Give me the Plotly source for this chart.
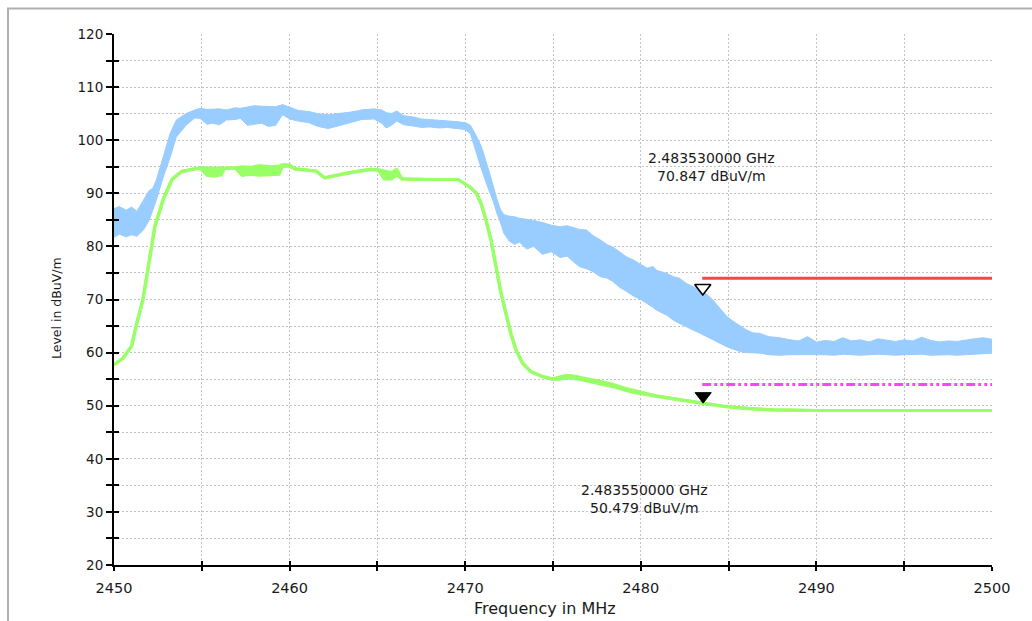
import plotly.graph_objects as go

# ---------------- data ----------------
blue_freq = [2450.0, 2450.3, 2450.7, 2451.0, 2451.3, 2451.65, 2452.0, 2452.2, 2452.4, 2452.8,
             2453.2, 2453.55, 2454.1, 2454.6, 2454.9, 2455.3, 2455.6, 2456.0, 2456.4, 2456.9,
             2457.2, 2457.6, 2458.0, 2458.4, 2458.8, 2459.2, 2459.6, 2460.0, 2460.5, 2461.1,
             2461.6, 2462.2, 2462.9, 2463.5, 2464.1, 2464.8, 2465.25, 2465.5, 2465.8, 2466.1,
             2466.5, 2467.0, 2467.5, 2468.0, 2468.5, 2469.0, 2469.5, 2470.0, 2470.3, 2470.6,
             2470.9, 2471.3, 2471.6, 2471.8, 2472.0, 2472.2, 2472.5, 2472.8, 2473.1, 2473.5,
             2473.9, 2474.4, 2474.9, 2475.4, 2475.8, 2476.1, 2476.5, 2476.9, 2477.3, 2477.7,
             2478.1, 2478.4, 2478.8, 2479.2, 2479.6, 2480.0, 2480.35, 2480.7, 2480.9, 2481.5,
             2481.85, 2482.2, 2482.6, 2483.0, 2483.4, 2483.75, 2484.1, 2484.5, 2484.9, 2485.3,
             2485.65, 2486.0, 2486.4, 2486.8, 2487.3, 2487.9, 2488.5, 2489.0, 2489.5, 2490.0,
             2490.5, 2491.0, 2491.5, 2492.0, 2492.5, 2493.0, 2493.5, 2494.0, 2494.5, 2495.0,
             2495.5, 2496.0, 2496.5, 2497.0, 2497.5, 2498.0, 2498.5, 2499.0, 2499.5, 2500.0]
blue_hi = [87.1, 87.5, 86.8, 87.4, 86.6, 88.6, 90.5, 90.9, 92.4, 96.8,
           101.3, 103.8, 105.0, 105.7, 106.0, 105.8, 105.8, 105.9, 105.7, 106.1,
           106.0, 106.2, 106.5, 106.4, 106.3, 106.3, 106.7, 106.2, 105.6, 105.4,
           105.0, 104.8, 105.0, 105.3, 105.7, 105.9, 105.7, 105.2, 105.0, 105.5,
           104.6, 104.4, 104.0, 103.9, 103.8, 103.7, 103.5, 103.3, 102.8, 101.0,
           99.0, 94.8, 91.0, 89.0, 87.0, 86.0, 85.7, 85.6, 85.3, 85.1,
           84.9, 84.5, 84.0, 83.7, 83.9, 83.6, 83.2, 83.1, 82.0, 81.2,
           80.3, 79.9, 79.0, 78.0, 77.4, 76.6, 75.9, 76.2, 75.5, 74.9,
           74.3, 74.0, 73.0, 72.4, 71.6, 71.0, 69.9, 68.4, 66.8, 65.8,
           65.0, 64.3, 63.7, 63.6, 63.0, 62.8, 62.4, 62.2, 63.0, 62.0,
           62.3, 62.1, 62.8, 62.2, 62.4, 62.0, 62.6, 62.3, 62.1, 62.4,
           62.2, 62.9, 62.3, 62.0, 62.2, 62.1, 62.4, 62.6, 62.8, 62.5]
blue_lo = [81.7, 82.3, 81.8, 82.2, 81.9, 83.0, 84.9, 86.7, 88.6, 93.0,
           96.8, 100.6, 102.8, 104.2, 104.1, 103.0, 103.2, 102.9, 103.8, 103.9,
           104.1, 102.8, 103.0, 103.2, 102.6, 102.8, 104.8, 104.0, 103.6, 103.3,
           102.6, 102.2, 102.8, 103.4, 103.9, 104.0, 103.2, 102.3, 102.8, 103.6,
           102.9, 102.7, 102.4, 102.5, 102.3, 102.4, 102.2, 102.0, 101.2, 97.9,
           94.8, 91.0, 88.5, 86.3, 84.6, 82.5, 81.0, 80.4, 80.8, 79.5,
           80.0, 78.5, 79.0, 77.9, 78.2, 77.3, 76.2, 75.8, 75.2, 74.3,
           74.0, 73.4, 72.3, 71.5, 70.6, 70.0, 69.3, 68.5, 68.0, 67.0,
           66.1, 65.5, 64.8, 64.2, 63.6, 63.0, 62.4, 61.7, 61.1, 60.6,
           60.2, 60.0, 59.9, 59.9, 59.6, 59.5, 59.6, 59.6, 59.7, 59.6,
           59.6, 59.5, 59.7, 59.6, 59.5, 59.6, 59.7, 59.6, 59.5, 59.6,
           59.6, 59.7, 59.5, 59.6, 59.6, 59.5, 59.6, 59.7, 59.8, 59.9]

green_freq = [2450.0, 2450.5, 2451.0, 2451.25, 2451.65, 2451.95, 2452.33, 2452.8, 2453.3, 2453.85,
              2454.9, 2455.3, 2455.7, 2456.1, 2456.3, 2456.9, 2457.3, 2457.8, 2458.3, 2458.9,
              2459.4, 2459.6, 2460.0, 2460.3, 2461.0, 2461.5, 2462.0, 2462.5, 2463.0, 2463.6,
              2464.1, 2464.6, 2465.05, 2465.4, 2465.8, 2466.1, 2466.4, 2467.35, 2468.5, 2469.6,
              2470.26, 2470.64, 2470.9, 2471.18, 2471.47, 2471.75, 2472.04, 2472.32, 2472.6, 2472.89,
              2473.27, 2473.74, 2474.4, 2474.97, 2475.4, 2475.73, 2476.1, 2476.49, 2477.0, 2477.68,
              2478.43, 2479.1, 2479.77, 2480.9, 2482.23, 2483.56, 2484.9, 2486.03, 2487.55, 2490.0,
              2495.0, 2500.0]
green_hi = [57.7, 58.9, 61.2, 64.9, 70.0, 76.2, 83.8, 88.8, 92.6, 94.1,
            94.8, 94.8, 94.7, 94.8, 94.7, 94.8, 95.0, 94.9, 95.2, 95.0,
            95.1, 95.4, 95.3, 94.6, 94.4, 94.2, 92.9, 93.3, 93.6, 94.0,
            94.3, 94.5, 94.4, 94.1, 93.9, 94.5, 92.7, 92.6, 92.6, 92.6,
            91.2, 90.0, 88.1, 85.0, 81.2, 76.2, 71.2, 67.4, 63.6, 60.5,
            58.0, 56.4, 55.5, 55.0, 55.4, 55.7, 55.6, 55.4, 55.0, 54.6,
            54.0, 53.3, 52.7, 51.8, 51.1, 50.5, 49.8, 49.5, 49.2, 49.1,
            49.1, 49.1]
green_lo = [57.7, 58.9, 61.2, 64.9, 70.0, 76.2, 83.8, 88.8, 92.6, 94.1,
            94.8, 93.4, 93.3, 93.5, 94.7, 94.8, 93.4, 93.6, 93.4, 93.5,
            93.6, 95.1, 95.1, 94.6, 94.4, 94.2, 92.9, 93.3, 93.6, 94.0,
            94.3, 94.5, 94.4, 92.7, 92.7, 93.5, 92.7, 92.6, 92.6, 92.6,
            91.2, 90.0, 88.1, 85.0, 81.2, 76.2, 71.2, 67.4, 63.6, 60.5,
            58.0, 56.4, 55.5, 55.0, 55.0, 55.2, 55.2, 55.0, 54.6, 54.2,
            53.6, 52.9, 52.4, 51.8, 51.1, 50.5, 49.8, 49.5, 49.2, 49.1,
            49.1, 49.1]

limit_freq = [2483.5, 2500.0]
peak_limit = [74.0, 74.0]
avg_limit = [54.0, 54.0]

marker_freq_ghz = [2.48353, 2.48355]
marker_level = [70.847, 50.479]

x_range = [2450, 2500]
y_range = [20, 120]
x_tick_labels = ["2450", "2460", "2470", "2480", "2490", "2500"]

# ---------------- layout geometry ----------------
W, H = 1032, 621
ML, MR, MT, MB = 114, 40, 34, 56
PW, PH = W - ML - MR, H - MT - MB
px_per_db = PH / (y_range[1] - y_range[0])

BLUE = "#99ccff"
GREEN = "#99ff66"
RED = "#f24848"
MAGENTA = "#ff44ff"
FONT = "DejaVu Sans"
TXT = "#1a1a1a"

fig = go.Figure()

# peak trace (band)
fig.add_trace(go.Scatter(x=blue_freq, y=blue_lo, mode="lines",
                         line=dict(color=BLUE, width=1), hoverinfo="skip"))
fig.add_trace(go.Scatter(x=blue_freq, y=blue_hi, mode="lines", fill="tonexty",
                         fillcolor=BLUE, line=dict(color=BLUE, width=1), hoverinfo="skip"))
# average trace
fig.add_trace(go.Scatter(x=green_freq, y=green_lo, mode="lines",
                         line=dict(color=GREEN, width=3.2), hoverinfo="skip"))
fig.add_trace(go.Scatter(x=green_freq, y=green_hi, mode="lines", fill="tonexty",
                         fillcolor=GREEN, line=dict(color=GREEN, width=3.2), hoverinfo="skip"))

# limit lines (on overlay axes that carry the inner tick halves)
fig.add_trace(go.Scatter(x=limit_freq, y=peak_limit, mode="lines",
                         line=dict(color=RED, width=3), xaxis="x2", yaxis="y2"))
fig.add_trace(go.Scatter(x=limit_freq, y=avg_limit, mode="lines",
                         line=dict(color=MAGENTA, width=3, dash="9px,3px,3px,3px,3px,3px"),
                         xaxis="x2", yaxis="y2"))

# markers: tip of the triangle sits on the measured level
msize = 14
tip_offset = (msize / 2) / px_per_db
mk_x = [f * 1000 for f in marker_freq_ghz]
fig.add_trace(go.Scatter(x=[mk_x[0]], y=[marker_level[0] + tip_offset], mode="markers",
                         marker=dict(symbol="triangle-down", size=msize, color="white",
                                     line=dict(color="black", width=1.6)),
                         xaxis="x2", yaxis="y2"))
fig.add_trace(go.Scatter(x=[mk_x[1]], y=[marker_level[1] + tip_offset], mode="markers",
                         marker=dict(symbol="triangle-down", size=msize, color="black",
                                     line=dict(color="black", width=1)),
                         xaxis="x2", yaxis="y2"))

def pxx(p):
    return (p - ML) / PW

def pxy(p):
    return (H - MB - p) / PH

annots = []
for i, (cx, cy) in enumerate([(711, 167), (644, 498.5)]):
    annots.append(dict(
        x=pxx(cx), y=pxy(cy), xref="paper", yref="paper", showarrow=False,
        xanchor="center", yanchor="middle", align="center",
        text=f"{marker_freq_ghz[i]:.9f} GHz<br>{marker_level[i]:.3f} dBuV/m",
        font=dict(family=FONT, size=14, color=TXT)))
annots.append(dict(x=pxx(545), y=pxy(608), xref="paper", yref="paper", showarrow=False,
                   xanchor="center", yanchor="middle", text="Frequency in MHz",
                   font=dict(family=FONT, size=16, color=TXT)))
annots.append(dict(x=pxx(56), y=pxy(308), xref="paper", yref="paper", showarrow=False,
                   xanchor="center", yanchor="middle", text="Level in dBuV/m", textangle=-90,
                   font=dict(family=FONT, size=12.5, color=TXT)))

grid = dict(showgrid=True, gridcolor="#c2c2c2", gridwidth=1, griddash="2px,2px")

fig.update_layout(
    width=W, height=H, margin=dict(l=ML, r=MR, t=MT, b=MB),
    paper_bgcolor="white", plot_bgcolor="white", showlegend=False,
    annotations=annots,
    shapes=[dict(type="rect", xref="paper", yref="paper",
                 x0=pxx(8), x1=pxx(1050), y0=pxy(650), y1=pxy(8.5),
                 line=dict(color="#b0b0b0", width=2), fillcolor="rgba(0,0,0,0)",
                 layer="above")],
    xaxis=dict(range=x_range, tickmode="array",
               tickvals=[int(t) for t in x_tick_labels], ticktext=x_tick_labels,
               ticks="outside", ticklen=4, tickwidth=2, tickcolor="black",
               showline=True, linecolor="black", linewidth=2,
               tickfont=dict(family=FONT, size=14.5, color=TXT),
               ticklabelstandoff=5, zeroline=False,
               minor=dict(dtick=5, tick0=2450, ticks="outside", ticklen=4, tickwidth=2,
                          tickcolor="black", **grid),
               **grid),
    yaxis=dict(range=y_range, dtick=10, tick0=20,
               ticks="outside", ticklen=6, tickwidth=2, tickcolor="black",
               showline=True, linecolor="black", linewidth=2,
               tickfont=dict(family=FONT, size=13.5, color=TXT),
               zeroline=False,
               minor=dict(dtick=5, tick0=20, ticks="outside", ticklen=6, tickwidth=2,
                          tickcolor="black", **grid),
               **grid),
    xaxis2=dict(range=x_range, overlaying="x", anchor="y2", side="bottom",
                dtick=5, tick0=2450, ticks="inside", ticklen=4, tickwidth=2,
                tickcolor="black", showticklabels=False, showgrid=False,
                showline=False, zeroline=False),
    yaxis2=dict(range=y_range, overlaying="y", anchor="x2", side="left",
                dtick=5, tick0=20, ticks="inside", ticklen=5, tickwidth=2,
                tickcolor="black", showticklabels=False, showgrid=False,
                showline=False, zeroline=False),
)

fig.write_html("out.html")
